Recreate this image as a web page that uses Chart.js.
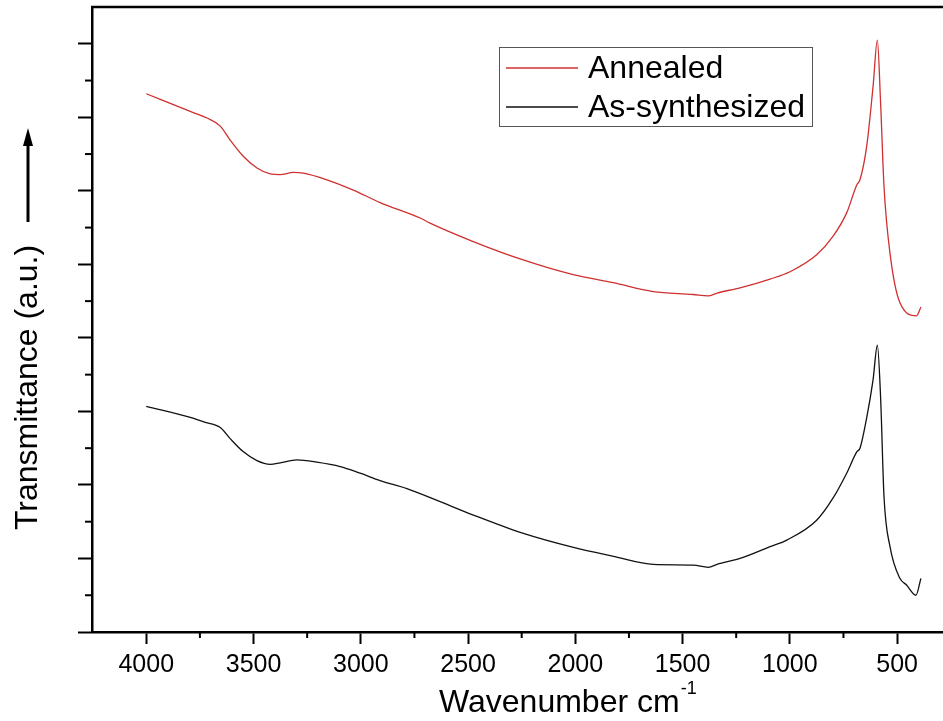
<!DOCTYPE html>
<html>
<head>
<meta charset="utf-8">
<title>FTIR spectra</title>
<script src="https://cdn.jsdelivr.net/npm/chart.js@4.4.0/dist/chart.umd.min.js"></script>
<style>
  html, body { margin: 0; padding: 0; background: #fff; }
  #wrap { width: 943px; height: 721px; position: relative; }
</style>
</head>
<body>
<div id="wrap"><canvas id="ftirChart"></canvas></div>
<script>
// wavenumber (cm-1) and transmittance (a.u., offset) for each sample
var annealedWn = [4000, 3795, 3717, 3655, 3609, 3548, 3484, 3422, 3376, 3315, 3268, 3158, 3035, 2910, 2723, 2677,
  2476, 2243, 2010, 1824, 1637, 1451, 1381, 1339, 1232, 1092, 999, 875, 799, 735, 688, 673, 642, 612, 592,
  577, 561, 533, 487, 409, 389];
var annealedT = [7.32, 7.08, 6.99, 6.88, 6.69, 6.47, 6.31, 6.23, 6.22, 6.25, 6.24, 6.15, 6.01, 5.84, 5.63, 5.56,
  5.31, 5.06, 4.86, 4.75, 4.63, 4.59, 4.57, 4.61, 4.68, 4.80, 4.90, 5.13, 5.38, 5.70, 6.08, 6.15, 6.60, 7.42, 8.05,
  7.20, 6.06, 5.15, 4.48, 4.30, 4.42];

var synthWn = [4000, 3795, 3725, 3655, 3609, 3547, 3484, 3422, 3376, 3298, 3205, 3096, 3003, 2910, 2785, 2653,
  2475, 2242, 2009, 1822, 1636, 1450, 1380, 1339, 1232, 1092, 1014, 875, 799, 735, 688, 673, 642, 612, 592,
  577, 561, 533, 487, 456, 412, 389];
var synthT = [3.07, 2.92, 2.85, 2.78, 2.63, 2.45, 2.33, 2.28, 2.30, 2.34, 2.31, 2.25, 2.16, 2.06, 1.95, 1.80,
  1.59, 1.34, 1.15, 1.03, 0.92, 0.91, 0.88, 0.92, 1.00, 1.16, 1.25, 1.52, 1.82, 2.16, 2.45, 2.50, 2.91, 3.43, 3.90,
  3.20, 1.84, 1.16, 0.73, 0.64, 0.50, 0.73];

var xMajor = [4000, 3500, 3000, 2500, 2000, 1500, 1000, 500];
var xMinor = [3750, 3250, 2750, 2250, 1750, 1250, 750];
var yMajor = [0, 1, 2, 3, 4, 5, 6, 7, 8];
var yMinor = [0.5, 1.5, 2.5, 3.5, 4.5, 5.5, 6.5, 7.5];

var FONT = '"Liberation Sans", Arial, sans-serif';

function toPoints(xs, ys) {
  return xs.map(function (x, i) { return { x: x, y: ys[i] }; });
}

// minor ticks, top frame line, legend box and axis titles
var frameAndLabels = {
  id: 'frameAndLabels',
  afterDraw: function (chart) {
    var c = chart.ctx, area = chart.chartArea;
    var xs = chart.scales.x, ys = chart.scales.y;
    c.save();
    c.strokeStyle = '#000';
    c.lineWidth = 2.5;
    c.beginPath();
    c.moveTo(area.left - 1, area.top);
    c.lineTo(area.right, area.top);
    c.stroke();

    c.lineWidth = 2;
    xMinor.forEach(function (v) {
      var px = xs.getPixelForValue(v);
      c.beginPath(); c.moveTo(px, area.bottom); c.lineTo(px, area.bottom + 6); c.stroke();
    });
    yMinor.forEach(function (v) {
      var py = ys.getPixelForValue(v);
      c.beginPath(); c.moveTo(area.left, py); c.lineTo(area.left - 7, py); c.stroke();
    });

    // legend
    c.lineWidth = 1;
    c.strokeStyle = '#555';
    c.strokeRect(499.5, 47.5, 313, 79);
    c.font = '32px ' + FONT;
    c.fillStyle = '#000';
    c.textBaseline = 'alphabetic';
    chart.data.datasets.forEach(function (ds, i) {
      var y = 68 + i * 39;
      c.strokeStyle = ds.borderColor;
      c.lineWidth = 1.5;
      c.beginPath(); c.moveTo(506, y); c.lineTo(578, y); c.stroke();
      c.fillText(ds.label, 588, y + 10);
    });

    // y title with arrow
    c.save();
    c.translate(37, 530);
    c.rotate(-Math.PI / 2);
    c.font = '32px ' + FONT;
    c.textAlign = 'left';
    c.fillText('Transmittance (a.u.)', 0, 0);
    c.restore();
    c.lineWidth = 3;
    c.strokeStyle = '#000';
    c.beginPath(); c.moveTo(28, 222); c.lineTo(28, 142); c.stroke();
    c.beginPath();
    c.moveTo(28, 128); c.lineTo(23, 146); c.lineTo(33, 146); c.closePath();
    c.fill();

    // x title with superscript unit
    var xt = 'Wavenumber cm';
    c.font = '32px ' + FONT;
    c.textAlign = 'left';
    c.fillText(xt, 439, 712);
    var w = c.measureText(xt).width;
    c.font = '18px ' + FONT;
    c.fillText('-1', 439 + w + 1, 694);
    c.restore();
  }
};

var ctx = document.getElementById('ftirChart');
var ftirChart = new Chart(ctx, {
  type: 'line',
  data: {
    datasets: [
      {
        label: 'Annealed',
        data: toPoints(annealedWn, annealedT),
        borderColor: '#cf3030',
        borderWidth: 1.3,
        cubicInterpolationMode: 'monotone'
      },
      {
        label: 'As-synthesized',
        data: toPoints(synthWn, synthT),
        borderColor: '#111111',
        borderWidth: 1.3,
        cubicInterpolationMode: 'monotone'
      }
    ]
  },
  options: {
    responsive: true,
    maintainAspectRatio: false,
    animation: false,
    layout: { padding: { top: 7, right: 0, bottom: 0, left: 0 } },
    elements: { point: { radius: 0 } },
    plugins: {
      legend: { display: false },
      tooltip: { enabled: false }
    },
    scales: {
      x: {
        type: 'linear',
        reverse: true,
        min: 286,
        max: 4253,
        afterBuildTicks: function (scale) {
          scale.ticks = xMajor.map(function (v) { return { value: v }; });
        },
        afterFit: function (scale) { scale.height = 89; },
        ticks: {
          color: '#000',
          font: { family: FONT, size: 25 },
          padding: 6,
          maxRotation: 0,
          autoSkip: false,
          callback: function (v) { return String(v); }
        },
        grid: { drawOnChartArea: false, tickLength: 12, tickWidth: 2, tickColor: '#000' },
        border: { color: '#000', width: 2.5 }
      },
      y: {
        min: 0,
        max: 8.5,
        afterBuildTicks: function (scale) {
          scale.ticks = yMajor.map(function (v) { return { value: v }; });
        },
        afterFit: function (scale) { scale.width = 92; },
        ticks: { display: false },
        grid: { drawOnChartArea: false, tickLength: 14, tickWidth: 2, tickColor: '#000' },
        border: { color: '#000', width: 2.5 }
      }
    }
  },
  plugins: [frameAndLabels]
});
</script>
</body>
</html>
